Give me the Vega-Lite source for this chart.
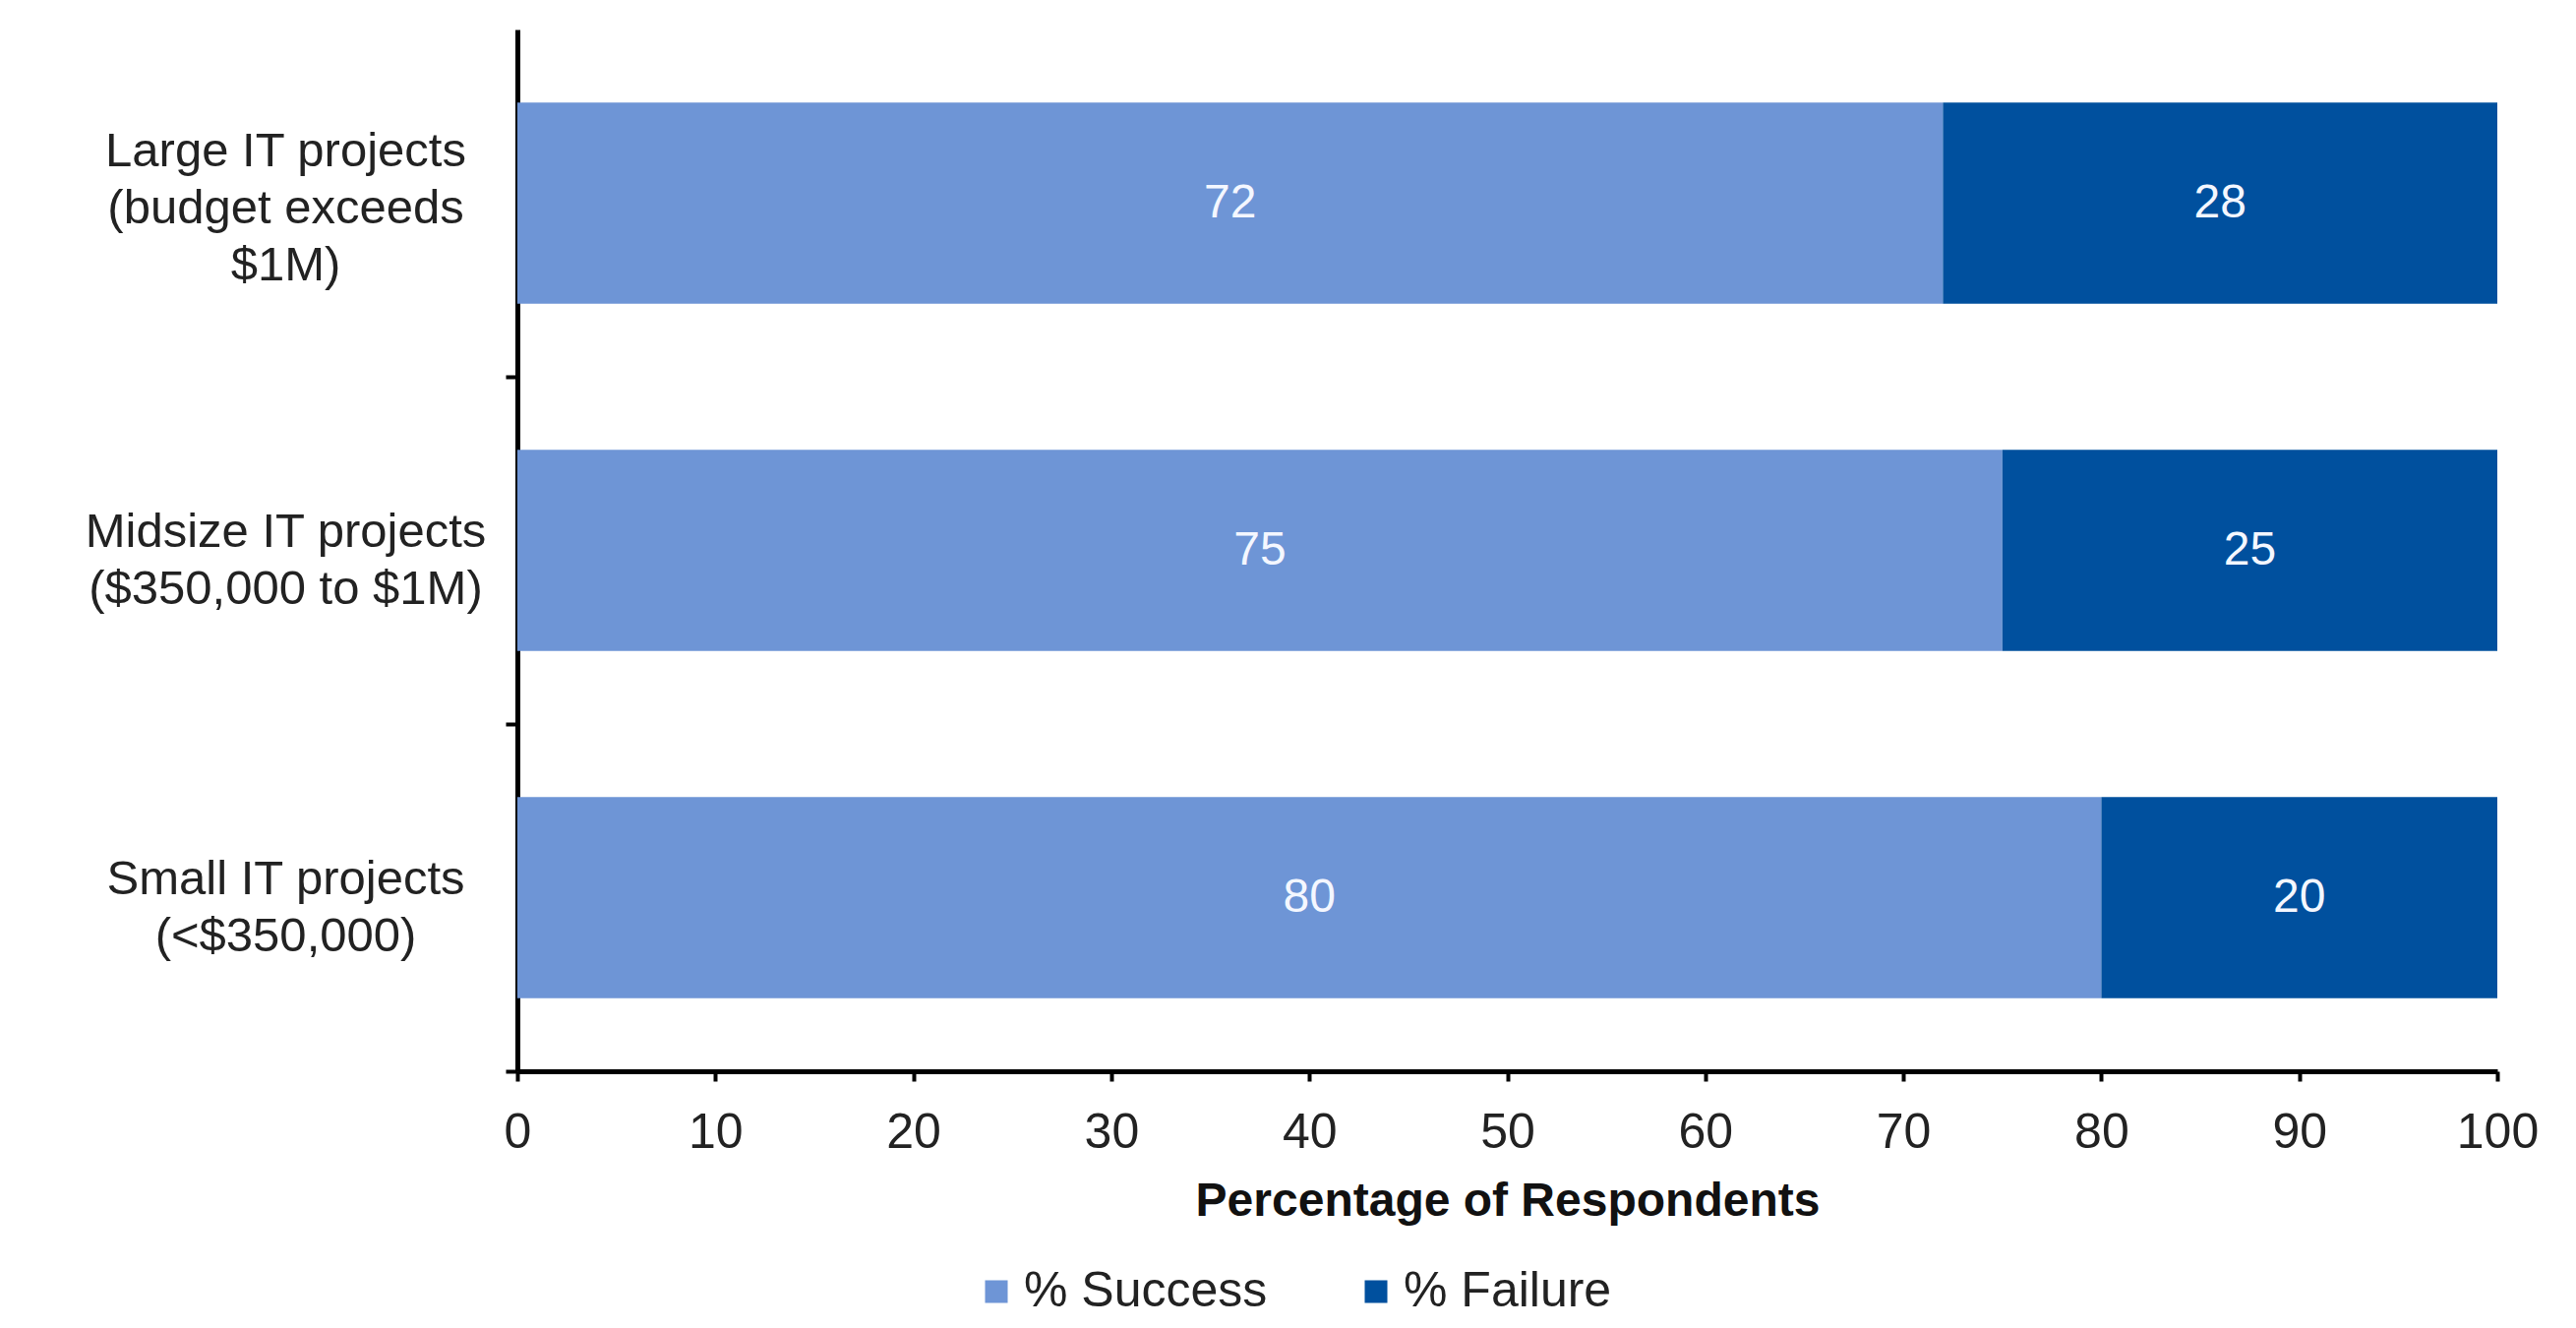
{
  "$schema": "https://vega.github.io/schema/vega-lite/v6.json",
  "width": 2013,
  "height": 1059,
  "autosize": {"type": "none"},
  "padding": {"left": 526, "top": 30, "right": 80, "bottom": 261},
  "background": "white",
  "config": {"view": {"stroke": null}, "font": "Liberation Sans"},
  "data": {
    "values": [
      {"project": "Large IT projects|(budget exceeds|$1M)", "series": "% Success", "value": 72},
      {"project": "Large IT projects|(budget exceeds|$1M)", "series": "% Failure", "value": 28},
      {"project": "Midsize IT projects|($350,000 to $1M)", "series": "% Success", "value": 75},
      {"project": "Midsize IT projects|($350,000 to $1M)", "series": "% Failure", "value": 25},
      {"project": "Small IT projects|(<$350,000)", "series": "% Success", "value": 80},
      {"project": "Small IT projects|(<$350,000)", "series": "% Failure", "value": 20}
    ]
  },
  "encoding": {
    "y": {
      "field": "project",
      "type": "nominal",
      "sort": ["Large IT projects|(budget exceeds|$1M)", "Midsize IT projects|($350,000 to $1M)", "Small IT projects|(<$350,000)"],
      "scale": {"paddingInner": 0.42, "paddingOuter": 0.21},
      "axis": {
        "title": null,
        "domainColor": "black",
        "domainWidth": 5,
        "tickColor": "black",
        "tickWidth": 4,
        "tickSize": 12,
        "tickOffset": 176.5,
        "labelAlign": "center",
        "labelBaseline": "middle",
        "labelPadding": 224,
        "labelFontSize": 49,
        "labelLineHeight": 58,
        "labelColor": "#222222",
        "labelLimit": 0,
        "labelOffset": {"condition": {"test": "indexof(datum.value, 'Large') == 0", "value": -229.5}, "value": -196}
        ,
        "labelExpr": "split(datum.label, '|')"
      }
    }
  },
  "layer": [
    {
      "mark": {"type": "bar"},
      "encoding": {
        "x": {
          "field": "value",
          "type": "quantitative",
          "stack": "zero",
          "scale": {"domain": [0, 100], "nice": false},
          "axis": {
            "values": [0, 10, 20, 30, 40, 50, 60, 70, 80, 90, 100],
            "grid": false,
            "domainColor": "black",
            "domainWidth": 5,
            "tickColor": "black",
            "tickWidth": 4,
            "tickSize": 10,
            "labelFontSize": 50,
            "labelPadding": 27,
            "labelColor": "#222222",
            "labelFlush": false,
            "labelOverlap": false,
            "title": "Percentage of Respondents",
            "titleFontSize": 48,
            "titleFontWeight": "bold",
            "titleColor": "#111111",
            "titlePadding": 21
          }
        },
        "color": {
          "field": "series",
          "type": "nominal",
          "scale": {"domain": ["% Success", "% Failure"], "range": ["#6e95d6", "#00509e"]},
          "legend": {
            "title": null,
            "orient": "none",
            "legendX": 462,
            "legendY": 1258,
            "direction": "horizontal",
            "symbolType": "square",
            "symbolSize": 530,
            "symbolStrokeWidth": 0,
            "labelFontSize": 50,
            "labelColor": "#222222",
            "labelLimit": 0,
            "columnPadding": 85,
            "labelOffset": 3
          }
        },
        "order": {"field": "series", "sort": "descending"}
      }
    },
    {
      "mark": {"type": "text", "color": "#f4f7ff", "fontSize": 48, "baseline": "middle", "align": "center"},
      "encoding": {
        "x": {"field": "value", "type": "quantitative", "stack": "zero", "bandPosition": 0.5},
        "detail": {"field": "series"},
        "order": {"field": "series", "sort": "descending"},
        "text": {"field": "value", "type": "quantitative"}
      }
    }
  ]
}
